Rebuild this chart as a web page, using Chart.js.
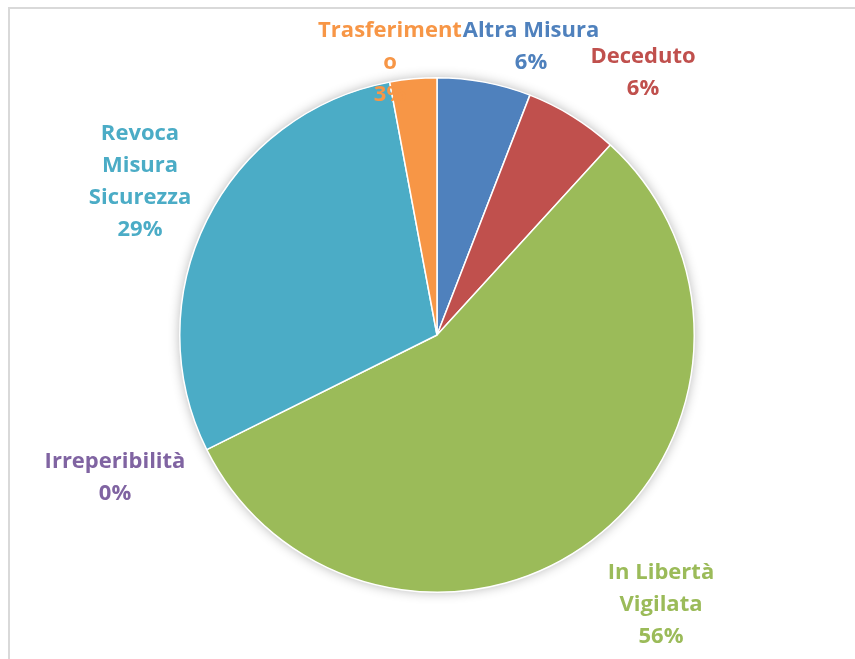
<!DOCTYPE html>
<html>
<head>
<meta charset="utf-8">
<script src="https://cdn.jsdelivr.net/npm/chart.js@4/dist/chart.umd.min.js"></script>
<style>
	body { margin: 0; background: #fff; }
	#wrap { position: relative; width: 855px; height: 659px; }
	#frame { position: absolute; left: 8px; top: 7px; right: 0; bottom: 0; border-top: 2px solid #d9d9d9; border-left: 2px solid #d9d9d9; }
	#myChart { position: absolute; left: 0; top: 0; }
</style>
</head>
<body>
<div id="wrap">
	<div id="frame"></div>
	<canvas id="myChart" width="855" height="659"></canvas>
</div>
<script>
let categories = ["Altra Misura", "Deceduto", "In Libertà Vigilata", "Irreperibilità", "Revoca Misura Sicurezza", "Trasferimento"];
let label_lines = [["Altra Misura"], ["Deceduto"], ["In Libertà", "Vigilata"], ["Irreperibilità"], ["Revoca", "Misura", "Sicurezza"], ["Trasferiment", "o"]];
let values = [2, 2, 19, 0, 10, 1];
let slice_color = ["#4F81BD", "#C0504D", "#9BBB59", "#8064A2", "#4BACC6", "#F79646"];

// label block centres, relative to the pie centre (layout only)
let label_offset = [[94, -288], [206, -262], [224, 270], [-322, 143], [-297, -153], [-47, -272]];

let myChart;

const shadowPlugin = {
	id: 'pieShadow',
	beforeDatasetsDraw(chart) {
		let arc = chart.getDatasetMeta(0).data[0];
		if (!arc) return;
		let ctx = chart.ctx;
		ctx.save();
		ctx.shadowColor = 'rgba(0,0,0,0.3)';
		ctx.shadowBlur = 12;
		ctx.fillStyle = '#fff';
		ctx.beginPath();
		ctx.arc(arc.x, arc.y, arc.outerRadius, 0, Math.PI * 2);
		ctx.fill();
		ctx.restore();
	}
};

const labelPlugin = {
	id: 'pieLabels',
	afterDatasetsDraw(chart) {
		let arc = chart.getDatasetMeta(0).data[0];
		if (!arc) return;
		let ctx = chart.ctx;
		let total = values.reduce((a, b) => a + b, 0);
		ctx.save();
		ctx.font = 'bold 22px "Open Sans"';
		ctx.textAlign = 'center';
		ctx.textBaseline = 'middle';
		for (let i = 0; i < values.length; i++) {
			let lines = label_lines[i].concat([Math.round(values[i] / total * 100) + '%']);
			let lh = 32;
			let cx = arc.x + label_offset[i][0];
			let cy = arc.y + label_offset[i][1] - (lines.length - 1) * lh / 2;
			ctx.fillStyle = slice_color[i];
			for (let j = 0; j < lines.length; j++) {
				ctx.fillText(lines[j], cx, cy + j * lh);
			}
		}
		ctx.restore();
	}
};

function openChart() {
	let data = {
		labels: categories,
		datasets: [{
			data: values,
			backgroundColor: slice_color,
			borderColor: '#ffffff',
			borderWidth: 1.5,
			hoverOffset: 0
		}]
	};
	let options = {
		responsive: false,
		animation: false,
		layout: { padding: { left: 179, right: 160, top: 77, bottom: 66 } },
		plugins: {
			legend: { display: false },
			tooltip: { enabled: false }
		}
	};
	const ctx = document.getElementById('myChart').getContext('2d');
	myChart = new Chart(ctx, { type: 'pie', data, options, plugins: [shadowPlugin, labelPlugin] });
}

window.onload = function() {
	openChart();
}
</script>
</body>
</html>
